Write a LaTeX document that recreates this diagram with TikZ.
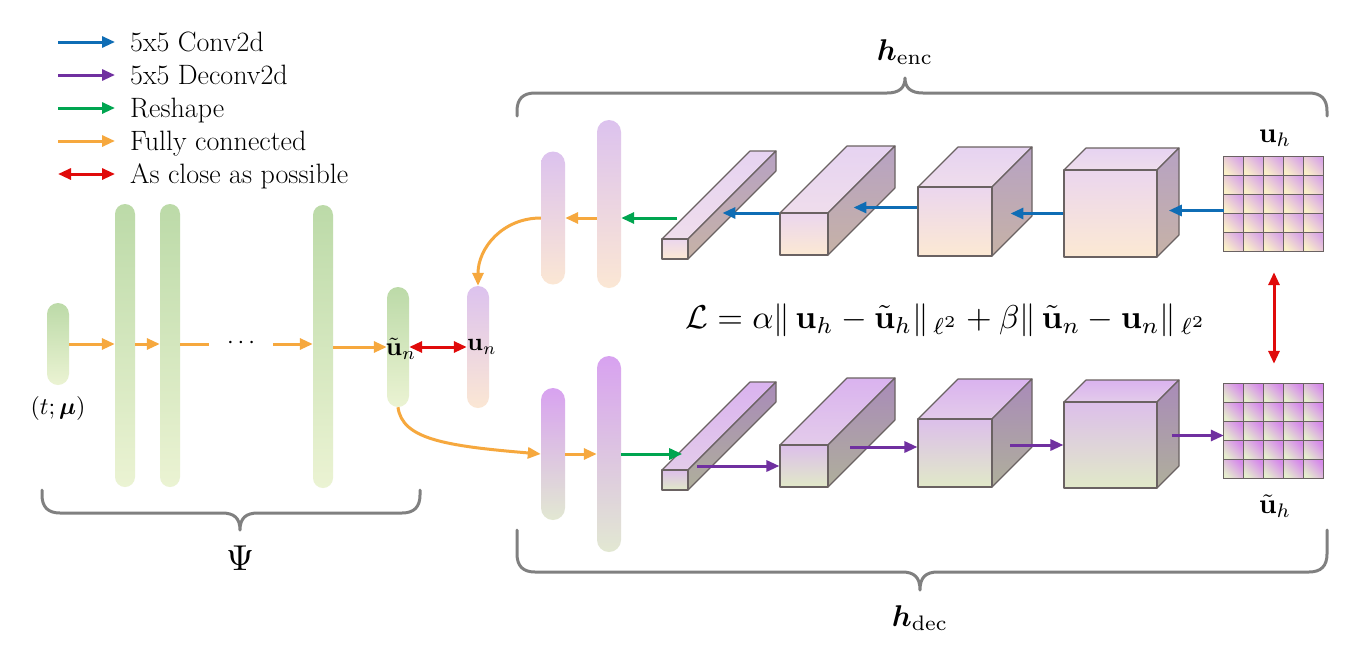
\documentclass[tikz,border=0pt]{standalone}
\usepackage{amsmath,amssymb}
\usetikzlibrary{arrows.meta}
\definecolor{cBlue}{HTML}{0F6DB5}
\definecolor{cPurple}{HTML}{7030A0}
\definecolor{cGreen}{HTML}{00A550}
\definecolor{cOrange}{HTML}{F6A83E}
\definecolor{cRed}{HTML}{E00A0A}
\definecolor{cGray}{HTML}{808080}
\definecolor{edge}{HTML}{6A6262}
\definecolor{gTop}{HTML}{BCDAA8}
\definecolor{gBot}{HTML}{EBF3D3}
\definecolor{eTop}{HTML}{DCC2EE}
\definecolor{eBot}{HTML}{FBE7D4}
\definecolor{dTop}{HTML}{D8A2F0}
\definecolor{dBot}{HTML}{E2E8D2}
\definecolor{eF1}{HTML}{EBD6EE}
\definecolor{eF2}{HTML}{FCE9D3}
\definecolor{eT1}{HTML}{E6D3F1}
\definecolor{eT2}{HTML}{EFDDEC}
\definecolor{eS1}{HTML}{B7A2C3}
\definecolor{eS2}{HTML}{C6B2A6}
\definecolor{dF1}{HTML}{DCBFEA}
\definecolor{dF2}{HTML}{E1E9C8}
\definecolor{dT1}{HTML}{DAB3EF}
\definecolor{dT2}{HTML}{E3CBEA}
\definecolor{dS1}{HTML}{A98BB9}
\definecolor{dS2}{HTML}{AFAF9B}
\definecolor{ceP}{HTML}{D9A6E6}
\definecolor{ceC}{HTML}{FAF0C8}
\definecolor{cdP}{HTML}{D68AEA}
\definecolor{cdC}{HTML}{E6EDCE}
\tikzset{
  arr/.style={line width=3pt,-{Triangle[length=13pt,width=11pt]}},
  conv/.style={arr,cBlue},
  deconv/.style={arr,cPurple},
  reshape/.style={arr,cGreen},
  fc/.style={arr,cOrange},
  close/.style={line width=3pt,cRed,{Triangle[length=13pt,width=11pt]}-{Triangle[length=13pt,width=11pt]}},
  legtext/.style={anchor=base west,inner sep=0pt,font=\fontsize{28}{32}\selectfont},
  lab/.style={inner sep=0pt,scale=2.6},
  pill/.style={draw=none,inner sep=0pt},
  gpill/.style={pill,top color=gTop,bottom color=gBot},
  epill/.style={pill,top color=eTop,bottom color=eBot},
  dpill/.style={pill,top color=dTop,bottom color=dBot},
  cfE/.style={draw=edge,line width=1.1pt,line join=round,inner sep=0pt,top color=eF1,bottom color=eF2},
  ctE/.style={draw=edge,line width=1.1pt,line join=round,top color=eT1,bottom color=eT2},
  csE/.style={draw=edge,line width=1.1pt,line join=round,top color=eS1,bottom color=eS2},
  cfD/.style={draw=edge,line width=1.1pt,line join=round,inner sep=0pt,top color=dF1,bottom color=dF2},
  ctD/.style={draw=edge,line width=1.1pt,line join=round,top color=dT1,bottom color=dT2},
  csD/.style={draw=edge,line width=1.1pt,line join=round,top color=dS1,bottom color=dS2},
  cellE/.style={draw=edge,line width=1.1pt,top color=ceP,bottom color=ceC,shading angle=-45},
  cellD/.style={draw=edge,line width=1.1pt,top color=cdP,bottom color=cdC,shading angle=-45},
  bracket/.style={cGray,line width=3pt,line cap=round,line join=round},
}
\newcommand\mycuboid[7]{%
  \draw[ct#7] (#2,#3) -- ++(#6,-#6) -- ++({#4-#2},0) -- (#4,#3) -- cycle;
  \draw[cs#7] (#4,#3) -- ++(#6,-#6) -- ++(0,{#5-#3}) -- (#4,#5) -- cycle;
  \node[cf#7,minimum width={(#4-#2)*1pt},minimum height={(#5-#3)*1pt}] (#1) at ({(#2+#4)/2},{(#3+#5)/2}) {};
}
\newcommand\mygrid[3]{% name, style, center y
  \node[inner sep=0pt,minimum width=100pt,minimum height=95pt] (#1) at (1274,#3) {};
  \foreach \i in {0,...,4}{\foreach \j in {0,...,4}{
    \draw[#2,shift={(#1.north west)}] (\i*20,\j*19) rectangle ++(20,19);
  }}
}
\begin{document}
\begin{tikzpicture}[x=1pt,y=-1pt]
\useasboundingbox[fill=white] (0,0) rectangle (1350,665);

% legend
\node[legtext] (l1) at (130,51) {5x5 Conv2d};
\node[legtext] (l2) at (130,84) {5x5 Deconv2d};
\node[legtext] (l3) at (130,117) {Reshape};
\node[legtext] (l4) at (130,150) {Fully connected};
\node[legtext] (l5) at (130,183) {As close as possible};
\draw[conv] ([xshift=-72pt,yshift=9pt]l1.base west) -- ([xshift=-15pt,yshift=9pt]l1.base west);
\draw[deconv] ([xshift=-72pt,yshift=9pt]l2.base west) -- ([xshift=-15pt,yshift=9pt]l2.base west);
\draw[reshape] ([xshift=-72pt,yshift=9pt]l3.base west) -- ([xshift=-15pt,yshift=9pt]l3.base west);
\draw[fc] ([xshift=-72pt,yshift=9pt]l4.base west) -- ([xshift=-15pt,yshift=9pt]l4.base west);
\draw[close] ([xshift=-72pt,yshift=9pt]l5.base west) -- ([xshift=-15pt,yshift=9pt]l5.base west);

% left network Psi
\node[gpill,rounded corners=11pt,minimum width=22pt,minimum height=82pt] (in) at (58,344) {};
\node[gpill,rounded corners=10pt,minimum width=20pt,minimum height=283pt] (c1) at (125,345.5) {};
\node[gpill,rounded corners=10pt,minimum width=20pt,minimum height=283pt] (c2) at (170,345.5) {};
\node[gpill,rounded corners=10pt,minimum width=20pt,minimum height=283pt] (c3) at (323,346.5) {};
\node[gpill,rounded corners=11pt,minimum width=22pt,minimum height=120pt] (tun) at (398,347) {};
\node[epill,rounded corners=11pt,minimum width=22pt,minimum height=122pt] (un) at (478,347) {};
\node[lab] (tunl) at (401,349) {$\tilde{\mathbf{u}}_n$};
\node[inner sep=0pt,scale=2.5] (unl) at (482,347) {$\mathbf{u}_n$};
\node[inner sep=0pt,scale=2.4] (inl) at (58,408) {$(t;\boldsymbol{\mu})$};
\node[inner sep=0pt,scale=2.4] (dots) at (243,343) {$\cdots$};

\draw[fc] (in.east) -- (in.east -| c1.west);
\draw[fc] (c1.east |- in.east) -- (in.east -| c2.west);
\draw[line width=3pt,cOrange] (c2.east |- in.east) -- ([xshift=-18pt]dots.west |- in.east);
\draw[fc] ([xshift=14pt]dots.east |- in.east) -- (in.east -| c3.west);
\draw[fc] (c3.east |- tun.west) -- (tun.west);
\draw[close] (tun.east) -- (un.west);

% encoder pills
\node[epill,rounded corners=12pt,minimum width=24pt,minimum height=133pt] (pA) at (553,218) {};
\node[epill,rounded corners=12pt,minimum width=24pt,minimum height=168pt] (pB) at (609,204) {};
% decoder pills
\node[dpill,rounded corners=12pt,minimum width=24pt,minimum height=132pt] (pC) at (553,454) {};
\node[dpill,rounded corners=12pt,minimum width=24pt,minimum height=196pt] (pD) at (609,454) {};

% encoder cuboids
\mycuboid{e1}{662}{239}{688}{259}{88}{E}
\mycuboid{e2}{780}{213}{828}{255}{67}{E}
\mycuboid{e3}{918}{187}{992}{256}{40}{E}
\mycuboid{e4}{1064}{170}{1157}{257}{22}{E}
% decoder cuboids
\mycuboid{d1}{662}{470}{688}{490}{88}{D}
\mycuboid{d2}{780}{445}{828}{487}{67}{D}
\mycuboid{d3}{918}{419}{992}{487}{40}{D}
\mycuboid{d4}{1064}{402}{1157}{488}{22}{D}

% grids
\mygrid{gU}{cellE}{204.5}
\mygrid{gD}{cellD}{431.5}
\node[inner sep=0pt,scale=2.8] (uhl) at (1275,138) {$\mathbf{u}_h$};
\node[inner sep=0pt,scale=2.8] (tuhl) at (1275,506) {$\tilde{\mathbf{u}}_h$};

% encoder arrows
\draw[conv] ([yshift=-6pt]gU.west) -- ++(-55,0);
\draw[conv] (e4.west) -- ++(-53,0);
\draw[conv] ([yshift=14pt]e3.west) -- ++(-64,0);
\draw[conv] ([yshift=21pt]e2.west) -- ++(-57,0);
\draw[reshape] ([xshift=16pt]e1.north west |- pA.east) -- (pB.east |- pA.east);
\draw[fc] (pB.west |- pA.east) -- (pA.east);
\draw[fc] (pA.west) .. controls +(-38,0) and +(0,-38) .. (un.north);

% decoder arrows
\draw[fc] (tun.south) .. controls +(4,32) and +(-95,-8) .. (pC.west);
\draw[fc] (pC.east) -- (pC.east -| pD.west);
\draw[reshape] (pD.east) -- ++(61,0);
\draw[deconv] ([xshift=-82pt]d2.west) -- (d2.west);
\draw[deconv] ([xshift=-67pt,yshift=6pt]d3.west) -- ([yshift=6pt]d3.west);
\draw[deconv] ([xshift=-53pt]d4.west) -- (d4.west);
\draw[deconv] ([xshift=-52pt,yshift=-4pt]gD.west) -- ([yshift=-4pt]gD.west);
\draw[close,shorten <=20pt,shorten >=20pt] (gU.south) -- (gD.north);

% loss
\node[inner sep=0pt,scale=3.3] (loss) at (946,320)
  {$\mathcal{L}=\alpha\|\,\mathbf{u}_h-\tilde{\mathbf{u}}_h\|_{\,\ell^2}+\beta\|\,\tilde{\mathbf{u}}_n-\mathbf{u}_n\|_{\,\ell^2}$};

% braces
\draw[bracket] (517,116) -- (517,111) .. controls (517,99) and (523,93) .. (535,93) -- (887,93)
  .. controls (899,93) and (905,88) .. (905,78) .. controls (905,88) and (911,93) .. (923,93)
  -- (1309,93) .. controls (1321,93) and (1327,99) .. (1327,111) -- (1327,116);
\node[inner sep=0pt,scale=3] (henc) at (905,52) {$\boldsymbol{h}_{\mathrm{enc}}$};

\draw[bracket] (42,490) -- (42,495) .. controls (42,507) and (48,513) .. (60,513) -- (222,513)
  .. controls (234,513) and (240,518) .. (240,530) .. controls (240,518) and (246,513) .. (258,513)
  -- (402,513) .. controls (414,513) and (420,507) .. (420,495) -- (420,490);
\node[inner sep=0pt,scale=3.6] (psi) at (240,558) {$\Psi$};

\draw[bracket] (517,530) -- (517,554) .. controls (517,566) and (523,572) .. (535,572) -- (902,572)
  .. controls (914,572) and (920,577) .. (920,590) .. controls (920,577) and (926,572) .. (938,572)
  -- (1309,572) .. controls (1321,572) and (1327,566) .. (1327,554) -- (1327,530);
\node[inner sep=0pt,scale=3] (hdec) at (920,618) {$\boldsymbol{h}_{\mathrm{dec}}$};
\end{tikzpicture}
\end{document}
